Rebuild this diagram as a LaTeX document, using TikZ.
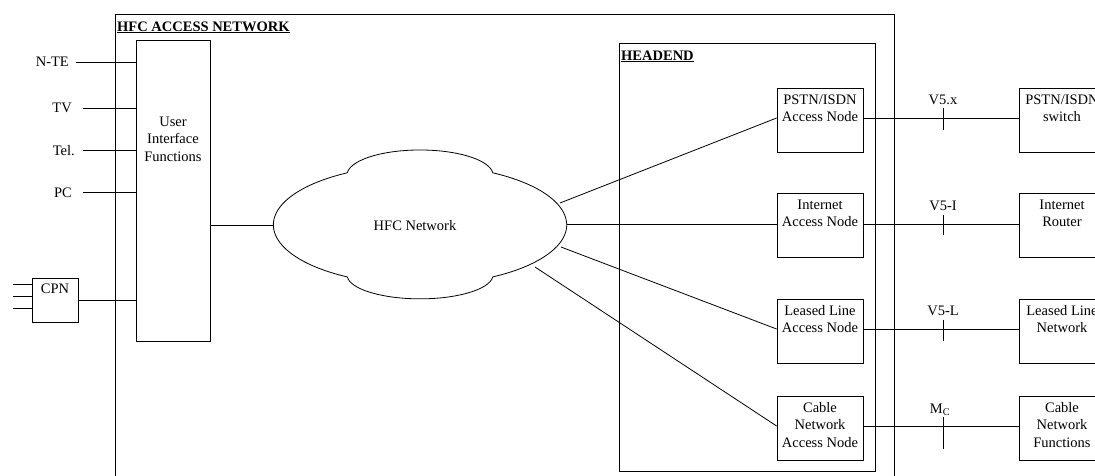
\documentclass[tikz,border=0pt]{standalone}
\usepackage{fontspec}
\setmainfont{Liberation Serif}
\newcommand\mystrut{\rule{0pt}{12pt}}
\begin{document}
\begin{tikzpicture}[x=1pt,y=-1pt,
  every node/.style={font=\fontsize{14.5}{17.5}\selectfont},
  ln/.style={line width=0.8pt},
  box/.style={draw, line width=0.8pt, minimum width=86pt, minimum height=64pt, inner sep=0pt},
  lbl/.style={anchor=north, inner sep=0pt, align=center},
  txt/.style={inner sep=0pt}]
\useasboundingbox (0,0) rectangle (1095,475);
\clip (0,0) rectangle (1095,475);

% outer HFC access network frame (bottom beyond picture)
\draw[ln] (115,485) -- (115,14) -- (894,14) -- (894,485);
\node[txt, anchor=base west] (title) at (117,31) {\bfseries\underline{HFC ACCESS NETWORK}};

% headend frame
\draw[ln] (619,43) rectangle (875,471);
\node[txt, anchor=base west] (headend) at (621,60) {\bfseries\underline{HEADEND}};

% user interface functions
\node[box, minimum width=74pt, minimum height=301pt] (uif) at (173,190.5) {};
\node[lbl] (uifL) at (173,114) {\mystrut User\\Interface\\Functions};

% terminals
\node[txt, anchor=base east] (nte) at (69,66.7) {N-TE};
\node[txt, anchor=base east] (tv) at (72,112.7) {TV};
\node[txt, anchor=base east] (tel) at (75,155) {Tel.};
\node[txt, anchor=base east] (pc) at (72,197) {PC};
\draw[ln] ([xshift=7pt]nte.east) -- (nte.east -| uif.west);
\draw[ln] ([xshift=11pt]tv.east) -- (tv.east -| uif.west);
\draw[ln] ([xshift=8pt]tel.east) -- (tel.east -| uif.west);
\draw[ln] ([xshift=11pt]pc.east) -- (pc.east -| uif.west);

% CPN
\node[box, minimum width=46pt, minimum height=44pt] (cpn) at (55,300) {};
\node[lbl] (cpnL) at ([yshift=-4pt]cpn.north) {\mystrut CPN};
\coordinate (s1) at (13,284);
\coordinate (s2) at (13,296);
\coordinate (s3) at (13,308);
\draw[ln] (s1) -- (s1 -| cpn.west);
\draw[ln] (s2) -- (s2 -| cpn.west);
\draw[ln] (s3) -- (s3 -| cpn.west);
\draw[ln] (cpn.east) -- (cpn.east -| uif.west);

% HFC network cloud
\draw[ln] (347.3,172.8)
  arc[start angle=185, end angle=355, x radius=73, y radius=25]
  arc[start angle=-60.2, end angle=60.2, x radius=147, y radius=60]
  arc[start angle=5, end angle=175, x radius=73, y radius=24]
  arc[start angle=119.8, end angle=240.2, x radius=147, y radius=60] -- cycle;
\node[txt, anchor=base] (hfc) at (415,230) {HFC Network};
\coordinate (cL) at (273.4,225);
\draw[ln] (uif.east |- cL) -- (cL);

% access nodes
\node[box] (pstn) at (820,120) {};
\node[lbl] at ([yshift=-4.5pt]pstn.north) {\mystrut PSTN/ISDN\\Access Node};
\node[box] (inet) at (820,225) {};
\node[lbl] at ([yshift=-4.5pt]inet.north) {\mystrut Internet\\Access Node};
\node[box] (ll) at (820,331) {};
\node[lbl] at ([yshift=-4.5pt]ll.north) {\mystrut Leased Line\\Access Node};
\node[box] (cab) at (820,428) {};
\node[lbl] at ([yshift=-4.5pt]cab.north) {\mystrut Cable\\Network\\Access Node};

% external networks
\node[box] (sw) at (1062,120) {};
\node[lbl] at ([yshift=-4.5pt]sw.north) {\mystrut PSTN/ISDN\\switch};
\node[box] (rt) at (1062,225) {};
\node[lbl] at ([yshift=-4.5pt]rt.north) {\mystrut Internet\\Router};
\node[box] (lln) at (1062,331) {};
\node[lbl] at ([yshift=-4.5pt]lln.north) {\mystrut Leased Line\\Network};
\node[box] (cnf) at (1062,428) {};
\node[lbl] at ([yshift=-4.5pt]cnf.north) {\mystrut Cable\\Network\\Functions};

% cloud to access nodes
\coordinate (c1) at (560,203);
\coordinate (c2) at (567.4,224);
\coordinate (c3) at (561,247);
\coordinate (c4) at (535,267);
\draw[ln] (c1) -- ([yshift=2pt]pstn.west);
\draw[ln] (c2) -- ([yshift=1pt]inet.west);
\draw[ln] (c3) -- ([yshift=2pt]ll.west);
\draw[ln] (c4) -- ([yshift=2pt]cab.west);

% interfaces
\draw[ln] ([yshift=2pt]pstn.east) -- ([yshift=2pt]sw.west);
\draw[ln] ([yshift=1pt]inet.east) -- ([yshift=1pt]rt.west);
\draw[ln] ([yshift=2pt]ll.east) -- ([yshift=2pt]lln.west);
\draw[ln] ([yshift=2pt]cab.east) -- ([yshift=2pt]cnf.west);
\draw[ln] (943,108) -- (943,130);
\draw[ln] (943,215) -- (943,235);
\draw[ln] (943,320) -- (943,341);
\draw[ln] (943,417) -- (943,449);
\node[txt, anchor=base] (v5x) at (943,104) {V5.x};
\node[txt, anchor=base] (v5i) at (943,210) {V5-I};
\node[txt, anchor=base] (v5l) at (943,315) {V5-L};
\node[txt, anchor=base] (mc) at (940,413) {M\textsubscript{C}};
\end{tikzpicture}
\end{document}
